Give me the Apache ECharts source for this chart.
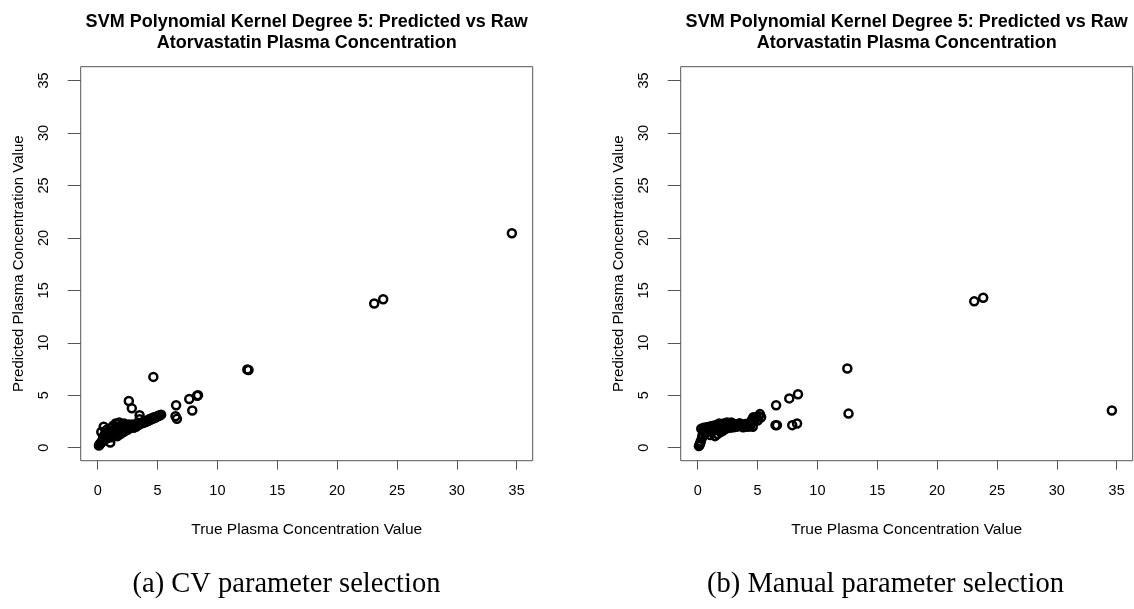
<!DOCTYPE html>
<html lang="en">
<head>
    <meta charset="UTF-8">
    <title>SVM Polynomial Kernel Degree 5</title>
    <style>
        html, body {margin: 0; padding: 0; background: #fff;}
        #main {width: 1134px; height: 609px;}
    </style>
</head>
<body>
<div id="main"></div>
<script src="https://cdn.jsdelivr.net/npm/echarts@6/dist/echarts.min.js"></script>
<script>
    // 真实浓度 (两个图共用 x)
    let trueConc = [
        0.10, 0.15, 0.20, 0.25, 0.30, 0.35, 0.40, 0.45, 0.50, 0.55,
        0.60, 0.65, 0.70, 0.75, 0.80, 0.85, 0.90, 0.95, 1.00, 1.05,
        1.10, 1.15, 1.20, 1.25, 1.30, 1.35, 1.40, 1.45, 1.50, 1.55,
        1.60, 1.65, 1.70, 1.75, 1.80, 1.85, 1.90, 1.95, 2.00, 2.05,
        2.10, 2.15, 2.20, 2.25, 2.30, 2.35, 2.40, 2.45, 2.50, 2.60,
        2.70, 2.80, 2.90, 3.00, 3.10, 3.20, 3.30, 3.40, 3.50, 3.60,
        3.70, 3.80, 3.90, 4.00, 4.10, 4.20, 4.30, 4.40, 4.50, 4.60,
        4.70, 4.80, 4.90, 5.00, 5.10, 5.20, 5.30,
        2.60, 2.85, 3.50, 4.65, 6.50, 6.55, 6.62, 7.65, 7.90, 8.30,
        8.38, 12.50, 12.60, 23.10, 23.85, 34.60
    ];
    // (a) CV 参数选择的预测值
    let predCV = [
        0.20, 0.30, 0.35, 0.45, 1.50, 0.55, 0.70, 1.00, 2.00, 1.20,
        0.80, 1.40, 1.00, 1.70, 0.90, 1.30, 1.10, 1.60, 1.20, 0.50,
        1.40, 1.90, 1.00, 1.50, 2.10, 1.20, 1.60, 1.30, 2.30, 1.40,
        1.80, 1.10, 2.00, 1.50, 2.40, 1.70, 1.30, 2.10, 1.60, 2.20,
        1.80, 1.50, 2.30, 1.90, 1.60, 2.10, 1.80, 2.00, 1.70, 2.20,
        1.90, 2.00, 2.20, 1.90, 2.10, 2.00, 2.30, 2.15, 2.70, 2.30,
        2.40, 2.35, 2.50, 2.45, 2.60, 2.55, 2.70, 2.65, 2.80, 2.75,
        2.90, 2.85, 2.95, 3.00, 3.05, 3.10, 3.15,
        4.45, 3.75, 3.10, 6.75, 3.00, 4.05, 2.75, 4.65, 3.55, 4.95,
        5.00, 7.45, 7.40, 13.75, 14.15, 20.45
    ];
    // (b) 手动参数选择的预测值
    let predManual = [
        0.15, 0.25, 0.40, 0.60, 1.80, 0.90, 1.20, 1.60, 1.90, 1.70,
        1.40, 1.85, 1.60, 1.95, 1.50, 1.75, 1.90, 2.00, 1.65, 1.20,
        1.80, 2.05, 1.55, 1.95, 2.10, 1.70, 1.85, 1.10, 2.15, 1.90,
        2.00, 1.30, 2.20, 1.75, 2.30, 1.95, 1.50, 2.10, 1.80, 2.25,
        1.60, 2.00, 2.30, 1.90, 2.10, 1.80, 2.25, 2.40, 2.00, 2.20,
        1.90, 2.40, 2.10, 1.95, 2.25, 2.00, 2.20, 2.05, 2.30, 2.10,
        2.20, 1.95, 2.15, 2.25, 2.05, 2.00, 2.20, 2.10, 2.60, 2.00,
        2.80, 2.70, 2.90, 2.60, 3.00, 3.20, 2.90,
        2.30, 2.10, 2.30, 2.90, 2.15, 4.05, 2.15, 4.70, 2.15, 2.30,
        5.10, 7.55, 3.25, 13.95, 14.30, 3.55
    ];
    // 刻度
    let tickValues = [0, 5, 10, 15, 20, 25, 30, 35];

    let titleText = 'SVM Polynomial Kernel Degree 5: Predicted vs Raw\nAtorvastatin Plasma Concentration';
    let captions = ['(a) CV parameter selection', '(b) Manual parameter selection'];
    let panelLeft = [80.7, 680.7];
    let captionCenter = [286.5, 885.5];

    let makeData = (ys) => trueConc.map((x, i) => [x, ys[i]]);

    let myChart = echarts.init(document.getElementById('main'));

    let grids = [], xAxes = [], yAxes = [], titles = [], series = [];
    [predCV, predManual].forEach((ys, k) => {
        grids.push({
            left: panelLeft[k], top: 66.7, width: 452, height: 394,
            show: true, borderColor: '#555', borderWidth: 1,
            backgroundColor: 'transparent', containLabel: false, outerBoundsMode: 'none'
        });
        xAxes.push({
            type: 'value', gridIndex: k, min: -1.42, max: 36.34,
            name: 'True Plasma Concentration Value', nameLocation: 'middle', nameGap: 61,
            nameTextStyle: {fontFamily: 'Liberation Sans', fontSize: 15.5, color: '#000'},
            axisLine: {show: false, onZero: false},
            axisTick: {show: true, inside: false, length: 9, customValues: tickValues, lineStyle: {color: '#555'}},
            axisLabel: {customValues: tickValues, margin: 23, fontFamily: 'Liberation Sans', fontSize: 14.5, color: '#000'},
            splitLine: {show: false}
        });
        yAxes.push({
            type: 'value', gridIndex: k, min: -1.24, max: 36.32,
            name: 'Predicted Plasma Concentration Value', nameLocation: 'middle', nameGap: 54,
            nameTextStyle: {fontFamily: 'Liberation Sans', fontSize: 15, color: '#000'},
            axisLine: {show: false, onZero: false},
            axisTick: {show: true, inside: false, length: 13, customValues: tickValues, lineStyle: {color: '#555'}},
            axisLabel: {customValues: tickValues, rotate: 90, margin: 29, fontFamily: 'Liberation Sans', fontSize: 14.5, color: '#000'},
            splitLine: {show: false}
        });
        titles.push({
            text: titleText, left: panelLeft[k] + 226, top: 12, textAlign: 'center', padding: 0,
            textStyle: {fontFamily: 'Liberation Sans', fontSize: 18, fontWeight: 'bold', lineHeight: 21, color: '#000'}
        });
        titles.push({
            text: captions[k], left: captionCenter[k], top: 570, textAlign: 'center', padding: 0,
            textStyle: {fontFamily: 'Liberation Serif', fontSize: 28.5, fontWeight: 'normal', color: '#000'}
        });
        series.push({
            type: 'scatter', xAxisIndex: k, yAxisIndex: k,
            symbol: 'circle', symbolSize: 8,
            itemStyle: {color: 'rgba(0,0,0,0)', borderColor: '#000', borderWidth: 2.5, opacity: 1},
            data: makeData(ys)
        });
    });

    let option = {
        animation: false,
        backgroundColor: '#fff',
        title: titles,
        grid: grids,
        xAxis: xAxes,
        yAxis: yAxes,
        series: series
    };
    myChart.setOption(option);
</script>
</body>
</html>
